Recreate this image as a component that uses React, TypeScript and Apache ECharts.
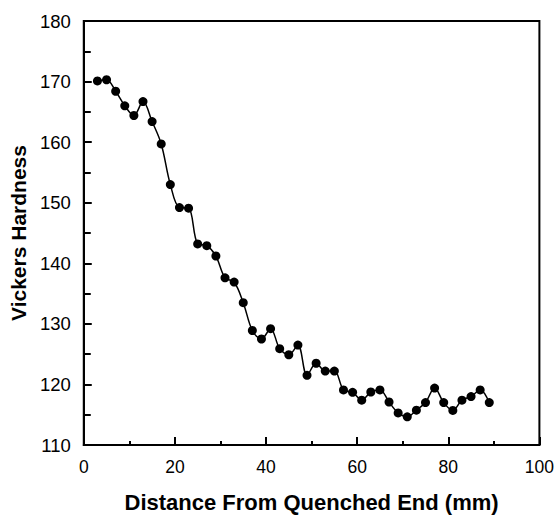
import React, { useEffect, useRef } from "react";
import * as echarts from "echarts";

const distance: number[] = [3, 5, 7, 9, 11, 13, 15, 17, 19, 21, 23, 25, 27, 29, 31, 33, 35, 37, 39, 41, 43, 45, 47, 49, 51, 53, 55, 57, 59, 61, 63, 65, 67, 69, 71, 73, 75, 77, 79, 81, 83, 85, 87, 89];
const hardness: number[] = [170.1, 170.3, 168.4, 166.0, 164.4, 166.7, 163.4, 159.7, 153.0, 149.2, 149.1, 143.2, 142.9, 141.2, 137.6, 136.9, 133.5, 128.9, 127.5, 129.2, 125.9, 124.9, 126.5, 121.5, 123.5, 122.2, 122.2, 119.1, 118.7, 117.4, 118.75, 119.1, 117.1, 115.3, 114.65, 115.75, 117.0, 119.4, 117.0, 115.7, 117.4, 118.0, 119.1, 117.0];

const xTitle = "Distance From Quenched End (mm)";
const yTitle = "Vickers Hardness";

export default function App() {
  const ref = useRef<HTMLDivElement>(null);
  useEffect(() => {
    if (!ref.current) return;
    const chart = echarts.init(ref.current, undefined, { renderer: "svg" });
    const font = "'Liberation Sans', Arial, sans-serif";
    chart.setOption({
      animation: false,
      backgroundColor: "#fff",
      grid: {
        left: 78,
        right: 17,
        top: 21,
        bottom: 71,
        show: true,
        borderColor: "#000",
        borderWidth: 2,
        backgroundColor: "transparent",
      },
      xAxis: {
        type: "value",
        min: 0,
        max: 100,
        interval: 20,
        name: xTitle,
        nameLocation: "middle",
        nameGap: 46,
        nameTextStyle: { fontFamily: font, fontWeight: "bold", fontSize: 22, color: "#000" },
        axisLine: { show: true, lineStyle: { color: "#000", width: 2 } },
        axisTick: { show: true, inside: true, length: 8, lineStyle: { color: "#000", width: 2 } },
        minorTick: { show: true, splitNumber: 2, length: 4, lineStyle: { color: "#000", width: 2 } },
        axisLabel: { fontFamily: font, fontSize: 17.5, color: "#000", margin: 13 },
        splitLine: { show: false },
      },
      yAxis: {
        type: "value",
        min: 110,
        max: 180,
        interval: 10,
        name: yTitle,
        nameLocation: "middle",
        nameGap: 51,
        nameTextStyle: { fontFamily: font, fontWeight: "bold", fontSize: 21, color: "#000" },
        axisLine: { show: true, lineStyle: { color: "#000", width: 2 } },
        axisTick: { show: true, inside: true, length: 8, lineStyle: { color: "#000", width: 2 } },
        minorTick: { show: true, splitNumber: 2, length: 7, lineStyle: { color: "#000", width: 2 } },
        axisLabel: { fontFamily: font, fontSize: 18.5, color: "#000", margin: 13 },
        splitLine: { show: false },
      },
      series: [
        {
          type: "line",
          data: distance.map((d, i) => [d, hardness[i]]),
          smooth: 0.35,
          symbol: "circle",
          symbolSize: 9,
          lineStyle: { color: "#000", width: 1.5 },
          itemStyle: { color: "#000" },
        },
      ],
    });
    return () => chart.dispose();
  }, []);
  return (
    <div
      ref={ref}
      style={{ position: "fixed", left: 0, top: 0, width: 557, height: 518, background: "#fff" }}
    />
  );
}
